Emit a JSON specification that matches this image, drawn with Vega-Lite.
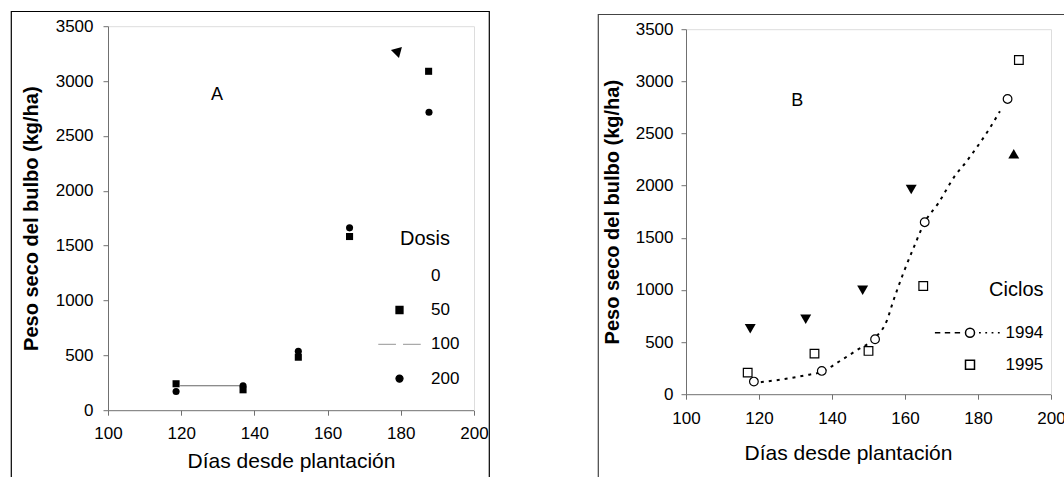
{
  "$schema": "https://vega.github.io/schema/vega-lite/v6.json",
  "background": "white",
  "padding": {"left": 10, "top": 10, "right": -8, "bottom": -13},
  "spacing": 107,
  "center": true,
  "resolve": {"scale": {"shape": "independent", "fill": "independent", "stroke": "independent"}, "legend": {"shape": "independent", "fill": "independent", "stroke": "independent"}},
  "datasets": {
    "panelA": [
      {"serie": "50", "dias": 118.6, "peso": 241},
      {"serie": "50", "dias": 136.9, "peso": 186},
      {"serie": "50", "dias": 152.0, "peso": 483},
      {"serie": "50", "dias": 166.0, "peso": 1583},
      {"serie": "50", "dias": 187.6, "peso": 3089},
      {"serie": "200", "dias": 118.6, "peso": 171},
      {"serie": "200", "dias": 136.9, "peso": 223},
      {"serie": "200", "dias": 152.0, "peso": 538},
      {"serie": "200", "dias": 166.0, "peso": 1662},
      {"serie": "200", "dias": 187.7, "peso": 2716},
      {"serie": "100", "dias": 119.7, "peso": 223},
      {"serie": "100", "dias": 136.2, "peso": 223},
      {"serie": "flecha", "dias": 178.6, "peso": 3272},
      {"serie": "rotulo", "texto": "A", "dias": 129.8, "peso": 2871}
    ],
    "panelB": [
      {"serie": "1994", "dias": 118.6, "peso": 121},
      {"serie": "1994", "dias": 137.2, "peso": 223},
      {"serie": "1994", "dias": 151.8, "peso": 527},
      {"serie": "1994", "dias": 165.4, "peso": 1649},
      {"serie": "1994", "dias": 188.1, "peso": 2831},
      {"serie": "1995", "dias": 116.9, "peso": 207},
      {"serie": "1995", "dias": 135.2, "peso": 389},
      {"serie": "1995", "dias": 150.0, "peso": 415},
      {"serie": "1995", "dias": 165.0, "peso": 1038},
      {"serie": "1995", "dias": 191.2, "peso": 3205},
      {"serie": "abajo", "dias": 117.6, "peso": 627},
      {"serie": "abajo", "dias": 132.8, "peso": 719},
      {"serie": "abajo", "dias": 148.4, "peso": 997},
      {"serie": "abajo", "dias": 161.7, "peso": 1962},
      {"serie": "arriba", "dias": 189.8, "peso": 2305},
      {"serie": "ajuste", "dias": 120.5, "peso": 115},
      {"serie": "ajuste", "dias": 126.0, "peso": 140},
      {"serie": "ajuste", "dias": 132.3, "peso": 178},
      {"serie": "ajuste", "dias": 137.5, "peso": 220},
      {"serie": "ajuste", "dias": 142.2, "peso": 319},
      {"serie": "ajuste", "dias": 146.8, "peso": 422},
      {"serie": "ajuste", "dias": 151.8, "peso": 540},
      {"serie": "ajuste", "dias": 155.0, "peso": 703},
      {"serie": "ajuste", "dias": 156.8, "peso": 895},
      {"serie": "ajuste", "dias": 159.6, "peso": 1166},
      {"serie": "ajuste", "dias": 162.2, "peso": 1390},
      {"serie": "ajuste", "dias": 165.4, "peso": 1649},
      {"serie": "ajuste", "dias": 169.1, "peso": 1830},
      {"serie": "ajuste", "dias": 173.8, "peso": 2100},
      {"serie": "ajuste", "dias": 176.6, "peso": 2220},
      {"serie": "ajuste", "dias": 178.5, "peso": 2310},
      {"serie": "ajuste", "dias": 183.2, "peso": 2550},
      {"serie": "ajuste", "dias": 186.0, "peso": 2713},
      {"serie": "rotulo", "texto": "B", "dias": 130.5, "peso": 2809}
    ]
  },
  "hconcat": [
    {
      "width": 478,
      "height": 480,
      "view": {"stroke": "black", "strokeWidth": 1.2},
      "resolve": {"axis": {"x": "independent", "y": "independent"}},
      "encoding": {
        "x": {"field": "dias", "type": "quantitative", "scale": {"domain": [100, 200], "range": [97, 463], "nice": false, "zero": false}, "axis": null},
        "y": {"field": "peso", "type": "quantitative", "scale": {"domain": [0, 3500], "range": [399, 15], "nice": false, "zero": false}, "axis": null}
      },
      "layer": [
        {"data": {"name": "panelA"}, "transform": [{"filter": "datum.serie === '100'"}],
         "mark": {"type": "line", "color": "#666666", "strokeWidth": 1.2}, "encoding": {}},
        {"data": {"name": "panelA"}, "transform": [{"filter": "datum.serie === '50'"}],
         "mark": {"type": "point", "shape": "square", "filled": true, "color": "black", "opacity": 1, "size": 50},
         "encoding": {
           "x": {"field": "dias", "type": "quantitative", "scale": {"domain": [100, 200], "range": [97, 463], "nice": false, "zero": false},
                 "axis": {"orient": "bottom", "offset": -81, "title": "Días desde plantación", "values": [100, 120, 140, 160, 180, 200], "labelPadding": 10.5, "titlePadding": 8.5, "titleFontSize": 21, "titleFontWeight": "normal"}},
           "y": {"field": "peso", "type": "quantitative", "scale": {"domain": [0, 3500], "range": [399, 15], "nice": false, "zero": false},
                 "axis": {"orient": "left", "offset": -97, "title": "Peso seco del bulbo (kg/ha)", "values": [0, 500, 1000, 1500, 2000, 2500, 3000, 3500], "format": "d", "labelPadding": 10, "titlePadding": 14, "titleFontSize": 20, "titleFontWeight": "bold"}}
         }},
        {"data": {"name": "panelA"}, "transform": [{"filter": "datum.serie === '200'"}],
         "mark": {"type": "point", "shape": "circle", "filled": true, "color": "black", "opacity": 1, "size": 50}},
        {"data": {"name": "panelA"}, "transform": [{"filter": "datum.serie === 'flecha'"}],
         "mark": {"type": "point", "shape": "triangle-left", "angle": 15, "filled": true, "color": "black", "opacity": 1, "size": 130}},
        {"data": {"name": "panelA"}, "transform": [{"filter": "datum.serie === 'rotulo'"}],
         "mark": {"type": "text", "fontSize": 18, "color": "black", "align": "center", "baseline": "middle"},
         "encoding": {
           "text": {"field": "texto"},
           "x": {"field": "dias", "type": "quantitative", "scale": {"domain": [100, 200], "range": [97, 463], "nice": false, "zero": false},
                 "axis": {"orient": "top", "offset": -15, "domainColor": "#dddddd", "ticks": false, "labels": false, "title": null}},
           "y": {"field": "peso", "type": "quantitative", "scale": {"domain": [0, 3500], "range": [399, 15], "nice": false, "zero": false},
                 "axis": {"orient": "right", "offset": -15, "domainColor": "#dddddd", "ticks": false, "labels": false, "title": null}}
         }},
        {"data": {"name": "panelA"}, "transform": [{"filter": "false"}],
         "mark": {"type": "point", "opacity": 1, "strokeWidth": 1.2},
         "encoding": {
           "shape": {"field": "serie", "type": "nominal",
             "scale": {"domain": ["0", "50", "100", "200"], "range": ["circle", "square", "M-6,0L-1,0M1,0L6,0", "circle"]},
             "legend": {"title": "Dosis", "orient": "none", "legendX": 380, "legendY": 218, "titleAnchor": "middle", "padding": 0, "titleFontSize": 20, "titleFontWeight": "normal", "labelFontSize": 17, "symbolSize": 50, "labelOffset": 23, "rowPadding": 16.3, "titlePadding": 18, "symbolStrokeWidth": 1.2}},
           "fill": {"field": "serie", "type": "nominal",
             "scale": {"domain": ["0", "50", "100", "200"], "range": ["transparent", "black", "transparent", "black"]},
             "legend": {"title": "Dosis", "orient": "none", "legendX": 380, "legendY": 218, "titleAnchor": "middle", "padding": 0, "titleFontSize": 20, "titleFontWeight": "normal", "labelFontSize": 17, "symbolSize": 50, "labelOffset": 23, "rowPadding": 16.3, "titlePadding": 18, "symbolStrokeWidth": 1.2}},
           "stroke": {"field": "serie", "type": "nominal",
             "scale": {"domain": ["0", "50", "100", "200"], "range": ["transparent", "black", "#aaaaaa", "black"]},
             "legend": {"title": "Dosis", "orient": "none", "legendX": 380, "legendY": 218, "titleAnchor": "middle", "padding": 0, "titleFontSize": 20, "titleFontWeight": "normal", "labelFontSize": 17, "symbolSize": 50, "labelOffset": 23, "rowPadding": 16.3, "titlePadding": 18, "symbolStrokeWidth": 1.2}}
         }}
      ]
    },
    {
      "width": 477,
      "height": 474,
      "view": {"stroke": "#444444", "strokeWidth": 1.2},
      "resolve": {"axis": {"x": "independent", "y": "independent"}},
      "encoding": {
        "x": {"field": "dias", "type": "quantitative", "scale": {"domain": [100, 200], "range": [88, 453], "nice": false, "zero": false}, "axis": null},
        "y": {"field": "peso", "type": "quantitative", "scale": {"domain": [0, 3500], "range": [380, 15], "nice": false, "zero": false}, "axis": null}
      },
      "layer": [
        {"data": {"name": "panelB"}, "transform": [{"filter": "datum.serie === 'ajuste'"}],
         "mark": {"type": "line", "color": "black", "strokeWidth": 2, "strokeDash": [3, 5], "interpolate": "monotone"}, "encoding": {}},
        {"data": {"name": "panelB"}, "transform": [{"filter": "datum.serie === '1994'"}],
         "mark": {"type": "point", "shape": "circle", "filled": true, "fill": "white", "stroke": "black", "strokeWidth": 1.2, "opacity": 1, "size": 75},
         "encoding": {
           "x": {"field": "dias", "type": "quantitative", "scale": {"domain": [100, 200], "range": [88, 453], "nice": false, "zero": false},
                 "axis": {"orient": "bottom", "offset": -94, "title": "Días desde plantación", "values": [100, 120, 140, 160, 180, 200], "labelPadding": 11, "titlePadding": 16, "titleFontSize": 21, "titleFontWeight": "normal", "titleX": 250}},
           "y": {"field": "peso", "type": "quantitative", "scale": {"domain": [0, 3500], "range": [380, 15], "nice": false, "zero": false},
                 "axis": {"orient": "left", "offset": -88, "title": "Peso seco del bulbo (kg/ha)", "values": [0, 500, 1000, 1500, 2000, 2500, 3000, 3500], "format": "d", "labelPadding": 8, "titlePadding": 13, "titleFontSize": 20, "titleFontWeight": "bold"}}
         }},
        {"data": {"name": "panelB"}, "transform": [{"filter": "datum.serie === '1995'"}],
         "mark": {"type": "point", "shape": "square", "filled": true, "fill": "white", "stroke": "black", "strokeWidth": 1.2, "opacity": 1, "size": 75}},
        {"data": {"name": "panelB"}, "transform": [{"filter": "datum.serie === 'abajo'"}],
         "mark": {"type": "point", "shape": "triangle-down", "filled": true, "color": "black", "opacity": 1, "size": 120}},
        {"data": {"name": "panelB"}, "transform": [{"filter": "datum.serie === 'arriba'"}],
         "mark": {"type": "point", "shape": "triangle-up", "filled": true, "color": "black", "opacity": 1, "size": 120}},
        {"data": {"name": "panelB"}, "transform": [{"filter": "datum.serie === 'rotulo'"}],
         "mark": {"type": "text", "fontSize": 18, "color": "black", "align": "center", "baseline": "middle"},
         "encoding": {
           "text": {"field": "texto"},
           "x": {"field": "dias", "type": "quantitative", "scale": {"domain": [100, 200], "range": [88, 453], "nice": false, "zero": false},
                 "axis": {"orient": "top", "offset": -15, "domainColor": "#dddddd", "ticks": false, "labels": false, "title": null}},
           "y": {"field": "peso", "type": "quantitative", "scale": {"domain": [0, 3500], "range": [380, 15], "nice": false, "zero": false},
                 "axis": {"orient": "right", "offset": -24, "domainColor": "#dddddd", "ticks": false, "labels": false, "title": null}}
         }},
        {"data": {"name": "panelB"}, "transform": [{"filter": "false"}],
         "mark": {"type": "point", "filled": true, "fill": "white", "stroke": "black", "strokeWidth": 1.1, "opacity": 1},
         "encoding": {
           "shape": {"field": "serie", "type": "nominal",
             "scale": {"domain": ["1994", "1995"], "range": ["M-7.8,0L-6.6,0M-5.6,0L-4.4,0M-3.4,0L-2.2,0M-1,0A1,1,0,1,1,1,0A1,1,0,1,1,-1,0ZM2,0L2.4,0M3.4,0L3.8,0M4.8,0L5.2,0M6.2,0L6.6,0", "square"]},
             "legend": {"title": "Ciclos", "orient": "none", "legendX": 363.5, "legendY": 266, "titleAnchor": "end", "padding": 0, "titleFontSize": 20, "titleFontWeight": "normal", "labelFontSize": 17, "symbolSize": 81, "labelOffset": 27, "rowPadding": 14, "titlePadding": 24}}
         }}
      ]
    }
  ],
  "config": {
    "font": "Liberation Sans",
    "axis": {
      "domainColor": "#707070", "tickColor": "#707070", "labelColor": "black", "titleColor": "black",
      "grid": false, "labelFontSize": 17, "tickSize": 5, "labelFlush": false, "labelOverlap": false,
      "labelFont": "Liberation Sans", "titleFont": "Liberation Sans"
    },
    "legend": {"labelFont": "Liberation Sans", "titleFont": "Liberation Sans", "labelColor": "black", "titleColor": "black"}
  }
}
